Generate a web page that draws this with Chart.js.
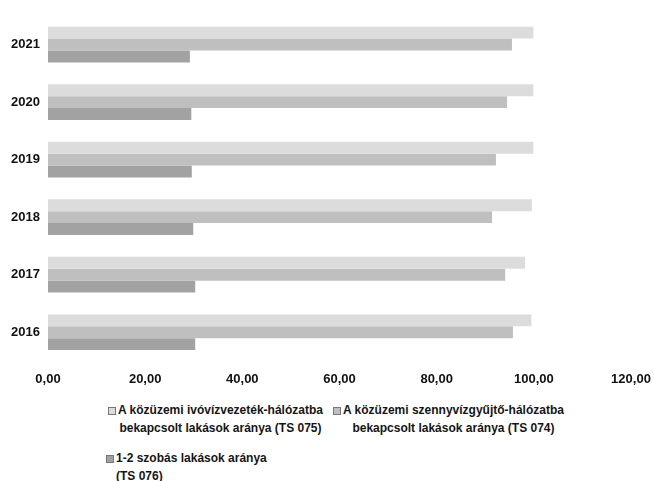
<!DOCTYPE html>
<html>
<head>
<meta charset="utf-8">
<script src="https://cdn.jsdelivr.net/npm/chart.js@4.4.1/dist/chart.umd.min.js"></script>
<style>
    body { margin: 0; background: #fff; font-family: "Liberation Sans", Arial, sans-serif; }
    #wrap { position: relative; width: 654px; height: 481px; overflow: hidden; }
    #chartBox { position: absolute; left: 0; top: 0; width: 654px; height: 400px; }
    .legend-item { position: absolute; display: flex; align-items: flex-start; font-weight: bold; font-size: 12px; color: #151515; line-height: 18px; }
    .legend-item .box { width: 6px; height: 6px; margin-top: 6px; margin-right: 2px; border: 1px solid #777; flex: none; }
    .legend-item .txt { text-align: center; }
    .legend-item.left .txt { text-align: left; }
</style>
</head>
<body>
<div id="wrap">
    <div id="chartBox"><canvas id="barChart"></canvas></div>
    <div id="legend"></div>
</div>
<script>
const years = ['2021', '2020', '2019', '2018', '2017', '2016'];

// series
const waterSupply = [99.9, 99.9, 99.9, 99.6, 98.2, 99.5];
const sewerage = [95.5, 94.5, 92.2, 91.4, 94.1, 95.7];
const smallFlats = [29.2, 29.5, 29.6, 29.9, 30.3, 30.3];

const seriesNames = [
    ['A közüzemi ivóvízvezeték-hálózatba', 'bekapcsolt lakások aránya (TS 075)'],
    ['A közüzemi szennyvízgyűjtő-hálózatba', 'bekapcsolt lakások aránya (TS 074)'],
    ['1-2 szobás lakások aránya', '(TS 076)']
];

const xTicks = [0, 20, 40, 60, 80, 100, 120];

const colors = ['#dcdcdc', '#bfbfbf', '#a2a2a2'];
const seriesData = [waterSupply, sewerage, smallFlats];

const fmt = v => v.toFixed(2).replace('.', ',');

const ctx = document.getElementById('barChart').getContext('2d');
const chart = new Chart(ctx, {
    type: 'bar',
    data: {
        labels: years,
        datasets: seriesData.map((d, i) => ({
            label: seriesNames[i].join(' '),
            data: d,
            backgroundColor: colors[i],
            borderWidth: 0,
            barPercentage: 1.0,
            categoryPercentage: 0.62
        }))
    },
    options: {
        indexAxis: 'y',
        responsive: true,
        maintainAspectRatio: false,
        animation: false,
        layout: { padding: 0 },
        plugins: {
            legend: { display: false },
            tooltip: { enabled: false }
        },
        scales: {
            x: {
                min: xTicks[0],
                max: xTicks[xTicks.length - 1],
                afterBuildTicks: s => { s.ticks = xTicks.map(v => ({ value: v })); },
                grid: { display: false, drawTicks: false },
                border: { display: false },
                ticks: {
                    padding: 11,
                    color: '#111',
                    font: { family: 'Liberation Sans', size: 13, weight: 'bold' },
                    callback: v => fmt(v)
                },
                afterFit: s => {
                    s.height = 39;
                    s.paddingLeft = 0;
                    s.paddingRight = 23;
                }
            },
            y: {
                grid: { display: false, drawTicks: false },
                border: { display: false },
                ticks: {
                    padding: 8,
                    color: '#111',
                    font: { family: 'Liberation Sans', size: 13, weight: 'bold' }
                },
                afterFit: s => { s.width = 48; }
            }
        }
    }
});

// legend drawn as html, laid out like the original
const legendPos = [
    { left: 108, top: 401, cls: '' },
    { left: 333, top: 401, cls: '' },
    { left: 106, top: 449, cls: 'left' }
];
const legendEl = document.getElementById('legend');
chart.data.datasets.forEach((ds, i) => {
    const item = document.createElement('div');
    item.className = 'legend-item ' + legendPos[i].cls;
    item.style.left = legendPos[i].left + 'px';
    item.style.top = legendPos[i].top + 'px';
    const box = document.createElement('span');
    box.className = 'box';
    box.style.background = ds.backgroundColor;
    const txt = document.createElement('div');
    txt.className = 'txt';
    txt.innerHTML = seriesNames[i].join('<br>');
    item.appendChild(box);
    item.appendChild(txt);
    legendEl.appendChild(item);
});
</script>
</body>
</html>
